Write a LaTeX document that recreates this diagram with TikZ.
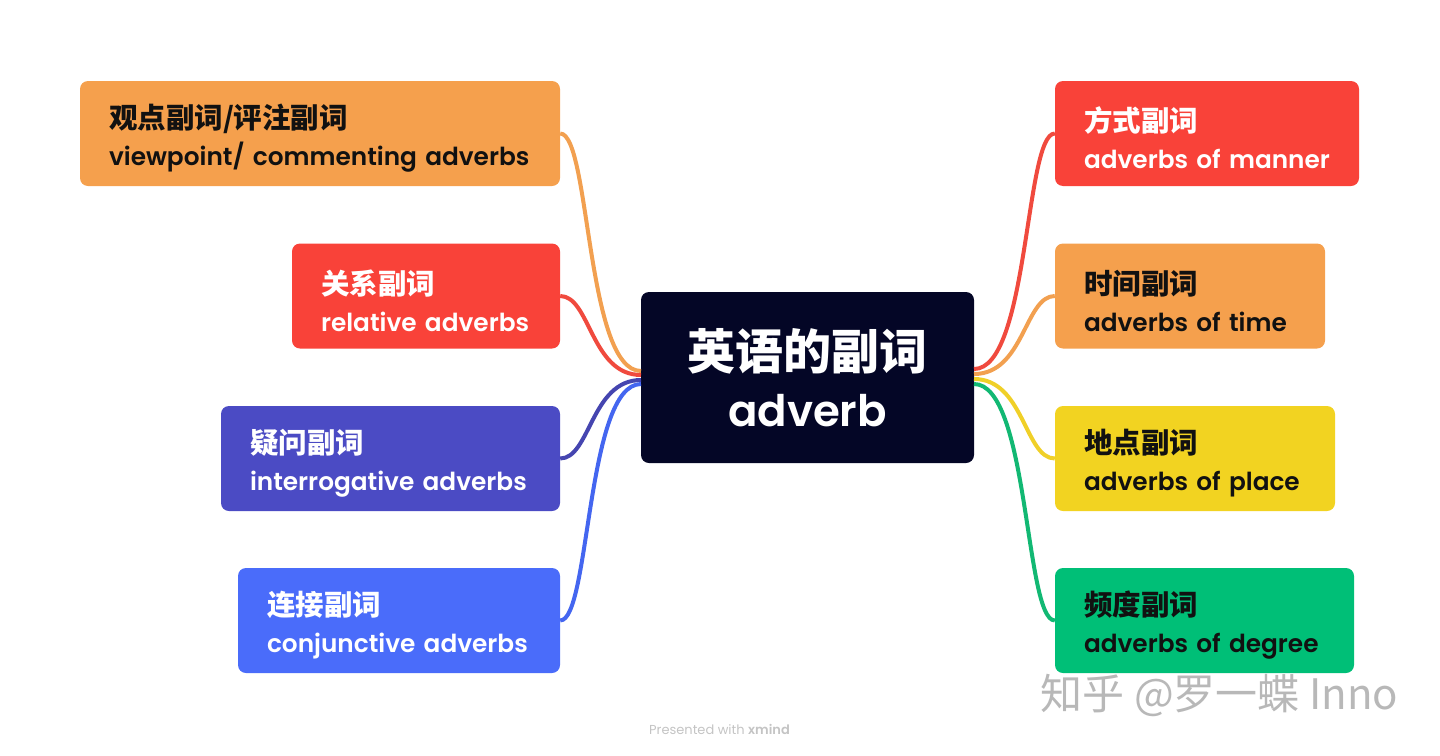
\documentclass[tikz,border=0pt]{standalone}
\usepackage{fontspec}
\setmainfont{Poppins}[UprightFont=* SemiBold, BoldFont=* SemiBold]
\newfontfamily\presfont{Poppins}[UprightFont=*, BoldFont=* SemiBold]
\newfontfamily\cjk{Noto Sans CJK SC}
\definecolor{boxO}{HTML}{F5A04D}
\definecolor{boxR}{HTML}{F94239}
\definecolor{boxP}{HTML}{4B4BC4}
\definecolor{boxB}{HTML}{4A6CFA}
\definecolor{boxY}{HTML}{F2D321}
\definecolor{boxG}{HTML}{00BF77}
\definecolor{navy}{HTML}{040626}
\definecolor{lineO}{HTML}{F2A050}
\definecolor{lineR}{HTML}{F04A3E}
\definecolor{lineP}{HTML}{4545B0}
\definecolor{lineB}{HTML}{4466F0}
\definecolor{lineY}{HTML}{F0D028}
\definecolor{lineG}{HTML}{12B873}
\definecolor{ink}{HTML}{111111}
\definecolor{wm}{HTML}{B8B8B8}
\definecolor{pres}{HTML}{C4C4C4}
\newcommand{\zh}[1]{{\rule{0pt}{34pt}\cjk\bfseries\fontsize{28.5}{37}\selectfont #1}}
\begin{document}
\begin{tikzpicture}[x=1pt,y=-1pt,
  box/.style={rounded corners=8pt, minimum height=105pt, inner xsep=29pt, inner ysep=0pt,
    align=left, font=\fontsize{24.8}{37}\selectfont},
  link/.style={line width=4pt}]
\useasboundingbox (0,0) rectangle (1440,755);
% center
\node[fill=navy, rounded corners=8pt, minimum width=333pt, minimum height=171pt, inner sep=0pt,
  text=white, align=center, font=\fontsize{43.5}{57}\selectfont] (c) at (807.5,377.5)
  {{\cjk\bfseries\fontsize{48}{57}\selectfont 英语的副词}\\adverb};
% left boxes
\node[box, fill=boxO, text=ink, text width=422pt] (l1) at (320,133.5)
  {\zh{观点副词/评注副词}\\viewpoint/ commenting adverbs};
\node[box, fill=boxR, text=white, text width=210pt] (l2) at (426,296)
  {\zh{关系副词}\\relative adverbs};
\node[box, fill=boxP, text=white, text width=281pt] (l3) at (390.5,458.5)
  {\zh{疑问副词}\\interrogative adverbs};
\node[box, fill=boxB, text=white, text width=264pt] (l4) at (399,620.5)
  {\zh{连接副词}\\conjunctive adverbs};
% right boxes
\node[box, fill=boxR, text=white, text width=246pt] (r1) at (1207,133.5)
  {\zh{方式副词}\\adverbs of manner};
\node[box, fill=boxO, text=ink, text width=212pt] (r2) at (1190,296)
  {\zh{时间副词}\\adverbs of time};
\node[box, fill=boxY, text=ink, text width=222pt] (r3) at (1195,458.5)
  {\zh{地点副词}\\adverbs of place};
\node[box, fill=boxG, text=ink, text width=241pt] (r4) at (1204.5,620.5)
  {\zh{频度副词}\\adverbs of degree};
% attachment points on the central topic
\coordinate (cl1) at (641,371);
\coordinate (cl2) at (641,375);
\coordinate (cl3) at (641,380);
\coordinate (cl4) at (641,384);
\coordinate (cr1) at (974,369);
\coordinate (cr2) at (974,374);
\coordinate (cr3) at (974,379);
\coordinate (cr4) at (974,384);
% connectors
\draw[link, draw=lineO] (l1.east) .. controls +(30,0) and +(-55,0) .. (cl1);
\draw[link, draw=lineR] (l2.east) .. controls +(30,0) and +(-50,0) .. (cl2);
\draw[link, draw=lineP] (l3.east) .. controls +(30,0) and +(-50,0) .. (cl3);
\draw[link, draw=lineB] (l4.east) .. controls +(30,0) and +(-55,0) .. (cl4);
\draw[link, draw=lineR] (cr1) .. controls +(55,0) and +(-30,0) .. (r1.west);
\draw[link, draw=lineO] (cr2) .. controls +(50,0) and +(-30,0) .. (r2.west);
\draw[link, draw=lineY] (cr3) .. controls +(50,0) and +(-30,0) .. (r3.west);
\draw[link, draw=lineG] (cr4) .. controls +(55,0) and +(-30,0) .. (r4.west);
% footer texts
\node[font=\presfont\fontsize{13}{15}\selectfont, text=pres, inner sep=0pt] (pw) at (719.5,729)
  {Presented with \textbf{xmind}};
\node[font=\cjk\fontsize{42}{48}\selectfont, text=wm, inner sep=0pt] (wmk) at (1219.5,695)
  {知乎 @罗一蝶 Inno};
\end{tikzpicture}
\end{document}
